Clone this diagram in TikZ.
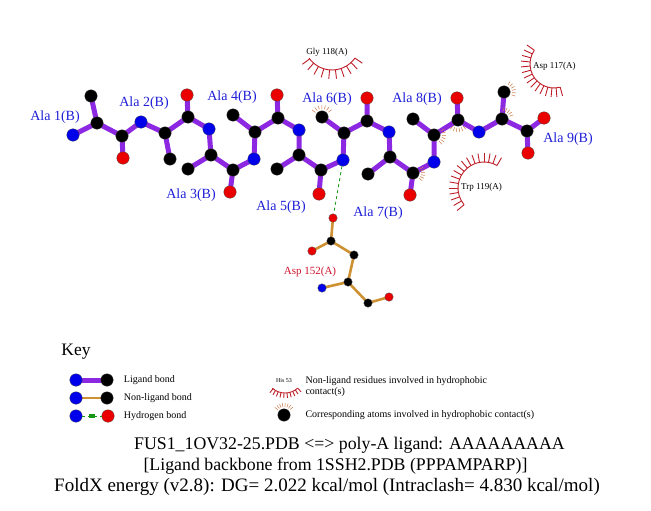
\documentclass[tikz,border=0pt]{standalone}
\usepackage{fontspec}
\setmainfont{Liberation Serif}
\usetikzlibrary{positioning,backgrounds}

\definecolor{ligcol}{RGB}{140,40,225}
\definecolor{nligcol}{RGB}{205,145,50}
\definecolor{hbcol}{RGB}{20,150,20}
\definecolor{atmblue}{RGB}{0,0,235}
\definecolor{atmred}{RGB}{235,0,0}
\definecolor{hrescol}{RGB}{190,30,40}
\definecolor{hspkcol}{RGB}{205,120,70}
\definecolor{labblue}{RGB}{30,30,215}
\definecolor{labred}{RGB}{205,20,45}

\begin{document}
\begin{tikzpicture}[x=1pt,y=-1pt,
    atom/.style={circle,draw=black!70,line width=0.3pt,inner sep=0pt,minimum size=12.5pt},
    natm/.style={atom,fill=atmblue},
    catm/.style={atom,fill=black},
    oatm/.style={atom,fill=atmred},
    satm/.style={minimum size=8.5pt},
    ligbd/.style={line width=5pt,ligcol,line join=round},
    nligbd/.style={line width=2.6pt,nligcol,line join=round},
    hbd/.style={dashed,hbcol,line width=0.8pt},
    hres/.style={hrescol,line width=0.9pt},
    hspk/.style={hspkcol,line width=0.5pt},
    reslab/.style={labblue,font=\fontsize{14}{16}\selectfont},
    hlab/.style={font=\fontsize{9}{10}\selectfont},
    keytxt/.style={font=\fontsize{10}{11}\selectfont,align=left},
    ttl/.style={font=\fontsize{17.8}{21}\selectfont}]
\useasboundingbox (0,0) rectangle (651,511);

% ligand: Ala 1-9 (B)
\node[natm] (n1) at (73,135) {};  \node[catm] (ca1) at (97,123) {};  \node[catm] (cb1) at (91,96) {};   \node[catm] (c1) at (122,136) {}; \node[oatm] (o1) at (123,158) {};
\node[natm] (n2) at (141,122) {}; \node[catm] (ca2) at (165,133) {}; \node[catm] (cb2) at (170,159) {}; \node[catm] (c2) at (188,117) {}; \node[oatm] (o2) at (187,95) {};
\node[natm] (n3) at (209,129) {}; \node[catm] (ca3) at (211,155) {}; \node[catm] (cb3) at (188,169) {}; \node[catm] (c3) at (233,170) {}; \node[oatm] (o3) at (230,192) {};
\node[natm] (n4) at (254,159) {}; \node[catm] (ca4) at (255,132) {}; \node[catm] (cb4) at (233,115) {}; \node[catm] (c4) at (278,118) {}; \node[oatm] (o4) at (277,95) {};
\node[natm] (n5) at (299,130) {}; \node[catm] (ca5) at (299,155) {}; \node[catm] (cb5) at (277,169) {}; \node[catm] (c5) at (321,170) {}; \node[oatm] (o5) at (319,194) {};
\node[natm] (n6) at (343,160) {}; \node[catm] (ca6) at (344,133) {}; \node[catm] (cb6) at (322,117) {}; \node[catm] (c6) at (367,121) {}; \node[oatm] (o6) at (367,98) {};
\node[natm] (n7) at (389,132) {}; \node[catm] (ca7) at (390,157) {}; \node[catm] (cb7) at (368,174) {}; \node[catm] (c7) at (413,173) {}; \node[oatm] (o7) at (410,195) {};
\node[natm] (n8) at (434,162) {}; \node[catm] (ca8) at (434,135) {}; \node[catm] (cb8) at (413,119) {}; \node[catm] (c8) at (458,120) {}; \node[oatm] (o8) at (457,98) {};
\node[natm] (n9) at (479,132) {}; \node[catm] (ca9) at (502,119) {}; \node[catm] (cb9) at (504,92) {};  \node[catm] (c9) at (527,131) {}; \node[oatm] (o9) at (528,153) {};
\node[oatm] (oxt9) at (544,118) {};

% Asp 152(A)
\node[natm,satm] (an) at (322,288) {};
\node[catm,satm] (aca) at (348,282) {};
\node[catm,satm] (ac) at (368,303) {};
\node[oatm,satm] (ao) at (389,297) {};
\node[catm,satm] (acb) at (354,255) {};
\node[catm,satm] (acg) at (331,241) {};
\node[oatm,satm] (aod1) at (333,218) {};
\node[oatm,satm] (aod2) at (312,251) {};

\begin{scope}[on background layer]
  \foreach \i in {1,...,9}
    \draw[ligbd] (n\i.center) -- (ca\i.center) -- (c\i.center) -- (o\i.center)
                 (ca\i.center) -- (cb\i.center);
  \foreach \i/\j in {1/2,2/3,3/4,4/5,5/6,6/7,7/8,8/9}
    \draw[ligbd] (c\i.center) -- (n\j.center);
  \draw[ligbd] (c9.center) -- (oxt9.center);
  \draw[nligbd] (an.center) -- (aca.center) -- (ac.center) -- (ao.center)
                (aca.center) -- (acb.center) -- (acg.center) -- (aod1.center)
                (acg.center) -- (aod2.center);
\end{scope}

% hydrogen bond
\draw[hbd] (n6) -- (aod1);

% residue labels
\node[reslab] (lab1) at (55,117) {Ala 1(B)};
\node[reslab] (lab2) at (144,103) {Ala 2(B)};
\node[reslab] (lab3) at (191,195) {Ala 3(B)};
\node[reslab] (lab4) at (232,97) {Ala 4(B)};
\node[reslab] (lab5) at (281,207) {Ala 5(B)};
\node[reslab] (lab6) at (327,99) {Ala 6(B)};
\node[reslab] (lab7) at (378,213) {Ala 7(B)};
\node[reslab] (lab8) at (417,99) {Ala 8(B)};
\node[reslab] (lab9) at (568,139) {Ala 9(B)};
\node[labred,font=\fontsize{11}{12}\selectfont] (lab152) at (310,272) {Asp 152(A)};

% hydrophobic contacts
\coordinate (g118) at (332,42);
\draw[hres] (g118) ++(35:28) arc[start angle=35,end angle=145,radius=28];
\foreach \a in {35,47,...,145} \draw[hres] (g118) ++(\a:28) -- ++(\a:9);
\node[hlab] (g118lab) at (327,52) {Gly 118(A)};

\coordinate (d117) at (554,64);
\draw[hres] (d117) ++(75:24) arc[start angle=75,end angle=215,radius=24];
\foreach \a in {75,85,...,215} \draw[hres] (d117) ++(\a:24) -- ++(\a:9);
\node[hlab,anchor=west,inner sep=0pt] (d117lab) at (533,66) {Asp 117(A)};

\coordinate (w119) at (484,188);
\draw[hres] (w119) ++(140:26) arc[start angle=140,end angle=300,radius=26];
\foreach \a in {140,150,...,300} \draw[hres] (w119) ++(\a:26) -- ++(\a:9);
\node[hlab,anchor=west,inner sep=0pt] (w119lab) at (461,187) {Trp 119(A)};

\foreach \a in {215,233,...,325} \draw[hspk] (cb6) ++(\a:8) -- ++(\a:4);
\foreach \a in {-30,-14,...,50} \draw[hspk] (ca8) ++(\a:8) -- ++(\a:4);
\foreach \a in {50,66,...,130} \draw[hspk] (c8) ++(\a:8) -- ++(\a:4);
\foreach \a in {-30,-16,...,40} \draw[hspk] (c7) ++(\a:8) -- ++(\a:4);
\foreach \a in {-60,-44,...,20} \draw[hspk] (cb9) ++(\a:8) -- ++(\a:4);
\foreach \a in {-80,-65,...,-20} \draw[hspk] (ca9) ++(\a:8) -- ++(\a:4);

% key
\node[font=\fontsize{17.5}{19}\selectfont] (key) at (76,352) {Key};
\node[natm] (ka1) at (76,380) {};
\node[catm] (kb1) at (107,380) {};
\node[natm] (ka2) at (76,398) {};
\node[catm] (kb2) at (107,398) {};
\node[natm] (ka3) at (76,416) {};
\node[oatm] (kb3) at (108,416) {};
\begin{scope}[on background layer]
  \draw[ligbd] (ka1.center) -- (kb1.center);
  \draw[nligbd] (ka2.center) -- (kb2.center);
\end{scope}
\draw[hbd,line width=0.6pt] (ka3) -- (kb3) node[midway,fill=white,inner sep=0.5pt,hbcol,font=\fontsize{4}{4}\selectfont] {3.0};
\node[keytxt,right=7pt of kb1] (kt1) {Ligand bond};
\node[keytxt,right=7pt of kb2] (kt2) {Non-ligand bond};
\node[keytxt,right=6pt of kb3] (kt3) {Hydrogen bond};

\coordinate (h53) at (285,374);
\draw[hres] (h53) ++(48:19) arc[start angle=48,end angle=132,radius=19];
\foreach \a in {48,57,...,132} \draw[hres] (h53) ++(\a:19) -- ++(\a:5);
\node[font=\fontsize{6}{6}\selectfont] (h53lab) at (284,381) {His 53};
\node[catm] (ks) at (284,415) {};
\foreach \a in {220,234,...,320} \draw[hspk] (ks) ++(\a:8) -- ++(\a:4);
\node[keytxt,anchor=west] (kt4) at (302,386.5) {Non-ligand residues involved in hydrophobic\\contact(s)};
\node[keytxt,anchor=west] (kt5) at (302,415) {Corresponding atoms involved in hydrophobic contact(s)};

% title
\node[ttl] (ttl1) at (349.5,445) {FUS1\_1OV32-25.PDB <=> poly-A ligand: AAAAAAAAA};
\node[ttl] (ttl2) at (335.5,466) {[Ligand backbone from 1SSH2.PDB (PPPAMPARP)]};
\node[ttl,font=\fontsize{19}{21}\selectfont] (ttl3) at (327,487) {FoldX energy (v2.8): DG= 2.022 kcal/mol (Intraclash= 4.830 kcal/mol)};
\end{tikzpicture}
\end{document}
